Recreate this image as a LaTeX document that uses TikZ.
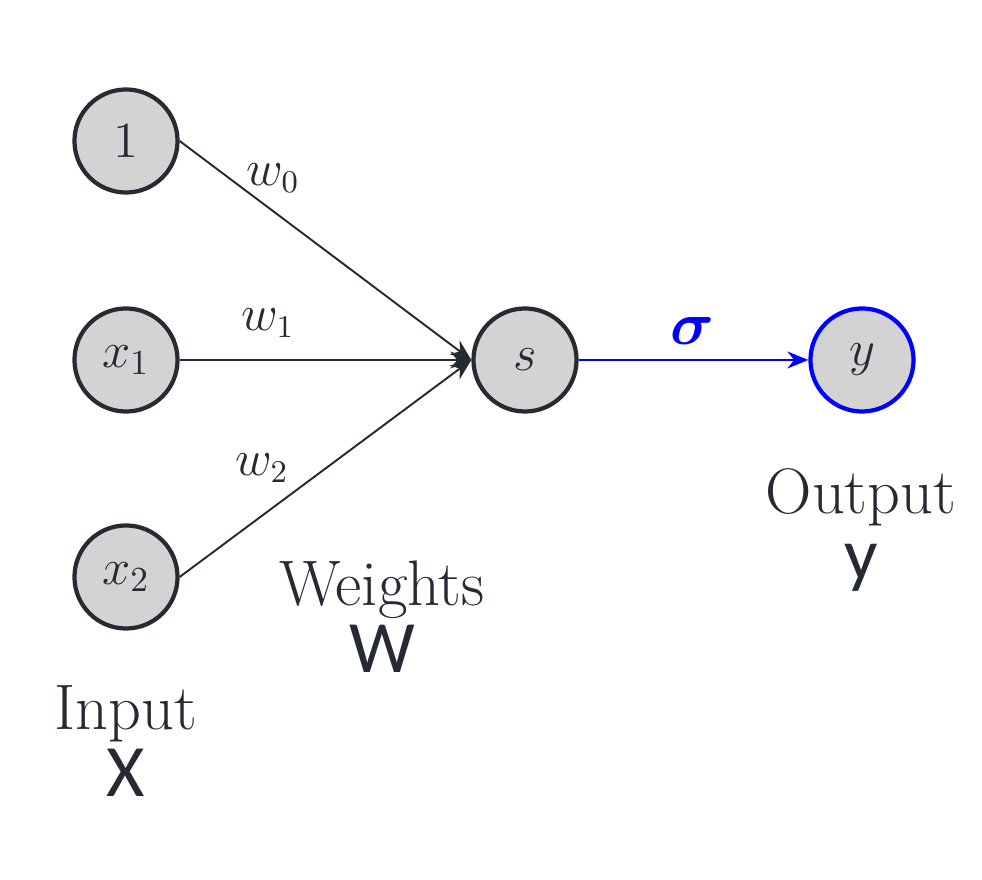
\documentclass[tikz,border=0pt]{standalone}
\usepackage{amsmath}
\usepackage{bm}
\usepackage{fontspec}
\newfontfamily\sansfont{Carlito}
\usetikzlibrary{arrows.meta}
\definecolor{ink}{HTML}{262A33}
\definecolor{cellfill}{HTML}{D3D3D3}
\begin{document}
\begin{tikzpicture}[x=0.01cm, y=-0.01cm,
  neuron/.style={circle, draw=ink, fill=cellfill, line width=1.2pt, minimum size=1.03cm, inner sep=0pt, text=ink, font=\fontsize{14}{16}\selectfont},
  weight/.style={draw=ink, line width=0.55pt, -{Stealth[length=2.1mm, width=1.7mm]}},
  wlabel/.style={text=ink, font=\fontsize{13.5}{15}\selectfont},
  caption/.style={text=ink, font=\fontsize{18.3}{20}\selectfont}]
\useasboundingbox (0,0) rectangle (982,880);
\node[neuron] (one) at (126,141) {$1$};
\node[neuron] (x1) at (126,360) {$x_1$};
\node[neuron] (x2) at (126,577) {$x_2$};
\node[neuron] (s) at (525,360) {$s$};
\node[neuron, draw=blue] (y) at (862,360) {$y$};
\draw[weight] (one.east) -- (s.west);
\draw[weight] (x1.east) -- (s.west);
\draw[weight] (x2.east) -- (s.west);
\draw[blue, line width=0.55pt, -{Stealth[length=2.1mm, width=1.7mm]}] (s.east) -- (y.west);
\node[wlabel] (w0) at (273,178) {$w_0$};
\node[wlabel] (w1) at (268,323) {$w_1$};
\node[wlabel] (w2) at (262,468) {$w_2$};
\node[text=blue, font=\fontsize{16}{18}\selectfont] (sigma) at (692,331) {$\bm{\sigma}$};
\node[caption, align=center] (input) at (126,741) {Input\\[-1pt]{\sansfont\fontsize{21}{22}\selectfont X}};
\node[caption, align=center] (weights) at (382,617) {Weights\\[-1pt]{\sansfont\fontsize{21}{22}\selectfont W}};
\node[caption, align=center] (output) at (861,530) {Output\\[-1pt]{\sansfont\fontsize{21}{22}\selectfont y}};
\end{tikzpicture}
\end{document}
